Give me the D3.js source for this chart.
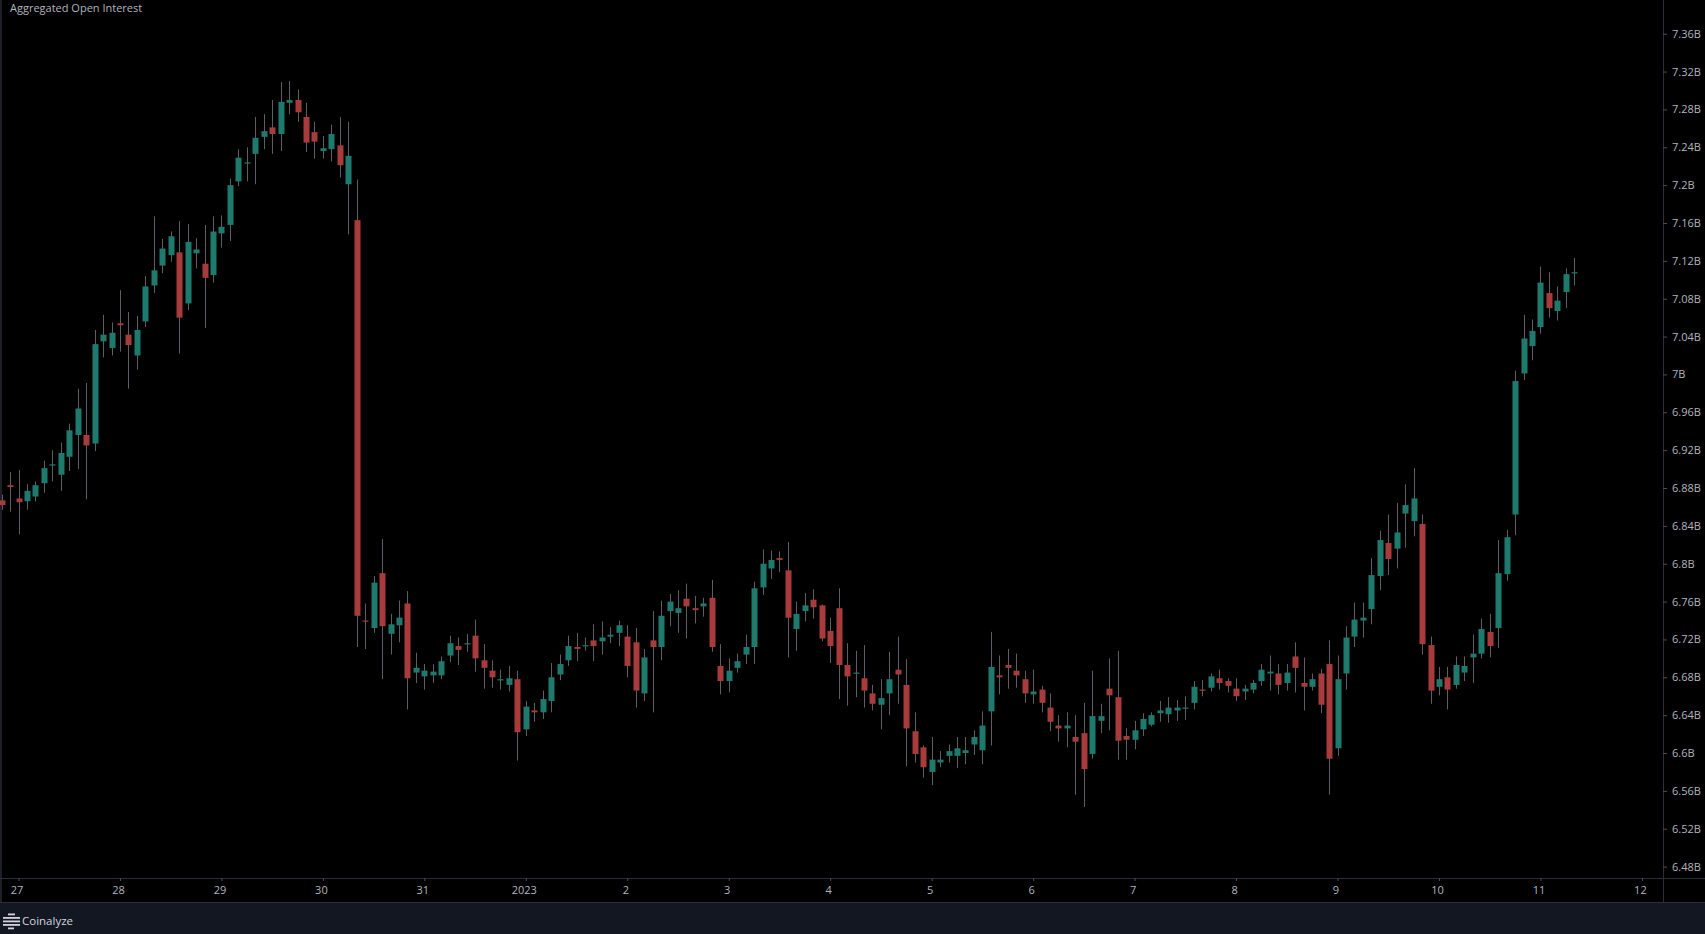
<!DOCTYPE html>
<html><head><meta charset="utf-8">
<script src="https://cdn.jsdelivr.net/npm/d3@7"></script>
<style>
html,body{margin:0;padding:0;background:#000;overflow:hidden;}
svg{display:block;}
</style></head><body>
<svg id="chart" width="1705" height="934"></svg>
<script>
// ---- data (2-hour candles, aggregated open interest, billions USD) ----
const firstCandle = "2022-12-26T20:00:00Z";
const candleHours = 2;
const openVals = [6.867,6.883,6.869,6.866,6.871,6.885,6.904,6.894,6.913,6.936,6.936,6.927,7.035,7.028,7.054,7.042,7.020,7.056,7.094,7.115,7.126,7.129,7.075,7.128,7.117,7.105,7.149,7.158,7.204,7.223,7.233,7.251,7.261,7.254,7.287,7.290,7.272,7.256,7.236,7.238,7.242,7.201,7.163,6.740,6.732,6.790,6.726,6.735,6.758,6.685,6.681,6.682,6.682,6.703,6.713,6.715,6.724,6.698,6.687,6.677,6.672,6.678,6.625,6.645,6.643,6.655,6.683,6.698,6.712,6.713,6.719,6.718,6.723,6.727,6.723,6.717,6.663,6.719,6.712,6.750,6.748,6.763,6.753,6.755,6.764,6.692,6.676,6.690,6.704,6.712,6.775,6.795,6.806,6.793,6.731,6.750,6.762,6.756,6.729,6.753,6.693,6.684,6.679,6.663,6.651,6.663,6.688,6.672,6.623,6.606,6.580,6.590,6.597,6.597,6.600,6.609,6.603,6.644,6.682,6.693,6.687,6.678,6.662,6.667,6.648,6.629,6.626,6.617,6.621,6.599,6.634,6.668,6.659,6.618,6.614,6.625,6.630,6.642,6.641,6.645,6.647,6.653,6.667,6.669,6.679,6.676,6.668,6.665,6.667,6.676,6.684,6.684,6.674,6.702,6.674,6.670,6.684,6.694,6.605,6.684,6.723,6.740,6.752,6.787,6.822,6.816,6.853,6.845,6.842,6.714,6.670,6.680,6.672,6.685,6.701,6.705,6.728,6.732,6.789,6.852,7.001,7.030,7.050,7.086,7.067,7.087,7.107];
const highVals = [6.873,6.897,6.899,6.884,6.887,6.909,6.920,6.928,6.948,6.985,6.991,7.047,7.063,7.055,7.089,7.066,7.062,7.104,7.167,7.143,7.151,7.162,7.159,7.144,7.158,7.167,7.168,7.207,7.238,7.240,7.272,7.275,7.290,7.309,7.310,7.301,7.287,7.267,7.252,7.264,7.272,7.267,7.206,6.758,6.787,6.826,6.747,6.761,6.771,6.706,6.694,6.694,6.702,6.724,6.722,6.726,6.741,6.715,6.698,6.688,6.692,6.687,6.655,6.653,6.666,6.695,6.704,6.724,6.727,6.722,6.736,6.739,6.733,6.740,6.735,6.732,6.710,6.750,6.761,6.768,6.772,6.779,6.766,6.764,6.783,6.715,6.700,6.705,6.725,6.781,6.815,6.814,6.813,6.823,6.760,6.769,6.773,6.757,6.743,6.774,6.716,6.708,6.714,6.672,6.678,6.707,6.723,6.699,6.643,6.608,6.617,6.602,6.609,6.617,6.617,6.624,6.644,6.728,6.703,6.710,6.705,6.687,6.688,6.671,6.663,6.640,6.643,6.640,6.653,6.687,6.652,6.700,6.708,6.626,6.634,6.642,6.643,6.655,6.659,6.656,6.660,6.676,6.677,6.684,6.688,6.679,6.679,6.672,6.677,6.694,6.703,6.694,6.694,6.717,6.701,6.684,6.689,6.719,6.703,6.734,6.759,6.759,6.806,6.835,6.852,6.864,6.884,6.901,6.852,6.723,6.691,6.691,6.702,6.702,6.725,6.742,6.747,6.825,6.836,7.004,7.063,7.058,7.114,7.108,7.093,7.112,7.123];
const lowVals = [6.857,6.855,6.831,6.857,6.866,6.875,6.887,6.877,6.898,6.900,6.868,6.919,7.018,7.020,7.024,6.985,7.005,7.050,7.086,7.107,7.119,7.022,7.068,7.112,7.049,7.097,7.134,7.141,7.199,7.204,7.201,7.238,7.233,7.236,7.275,7.267,7.235,7.228,7.228,7.225,7.208,7.148,6.712,6.710,6.727,6.678,6.704,6.717,6.646,6.674,6.667,6.674,6.678,6.696,6.693,6.707,6.686,6.668,6.669,6.667,6.665,6.592,6.618,6.633,6.636,6.643,6.677,6.692,6.697,6.708,6.697,6.704,6.716,6.713,6.680,6.648,6.655,6.643,6.698,6.734,6.727,6.721,6.737,6.744,6.707,6.662,6.664,6.685,6.694,6.694,6.767,6.784,6.791,6.701,6.708,6.739,6.742,6.718,6.695,6.657,6.650,6.659,6.648,6.645,6.625,6.640,6.652,6.586,6.590,6.574,6.566,6.585,6.590,6.584,6.588,6.598,6.588,6.608,6.662,6.668,6.669,6.653,6.652,6.643,6.623,6.612,6.606,6.556,6.543,6.594,6.621,6.624,6.593,6.593,6.604,6.618,6.628,6.633,6.632,6.634,6.635,6.646,6.660,6.665,6.667,6.664,6.655,6.656,6.663,6.671,6.666,6.662,6.666,6.664,6.645,6.666,6.642,6.556,6.597,6.667,6.712,6.722,6.736,6.772,6.788,6.795,6.817,6.829,6.704,6.652,6.661,6.646,6.668,6.676,6.674,6.700,6.701,6.711,6.782,6.830,6.994,7.015,7.043,7.060,7.057,7.070,7.094];
const closeVals = [6.862,6.881,6.865,6.877,6.883,6.901,6.905,6.917,6.941,6.964,6.925,7.032,7.042,7.044,7.052,7.031,7.047,7.093,7.110,7.133,7.146,7.060,7.140,7.132,7.102,7.151,7.156,7.200,7.229,7.224,7.250,7.257,7.254,7.288,7.290,7.277,7.245,7.246,7.239,7.254,7.221,7.231,6.745,6.739,6.780,6.734,6.736,6.743,6.679,6.690,6.687,6.686,6.697,6.716,6.709,6.716,6.700,6.690,6.680,6.678,6.679,6.622,6.649,6.643,6.657,6.680,6.694,6.713,6.710,6.714,6.713,6.722,6.725,6.735,6.692,6.666,6.701,6.712,6.745,6.760,6.753,6.755,6.751,6.758,6.712,6.676,6.687,6.697,6.712,6.774,6.800,6.804,6.804,6.743,6.747,6.756,6.754,6.721,6.713,6.693,6.681,6.685,6.666,6.652,6.658,6.678,6.683,6.626,6.599,6.585,6.593,6.593,6.602,6.605,6.603,6.617,6.629,6.691,6.680,6.690,6.682,6.663,6.665,6.653,6.633,6.626,6.629,6.612,6.583,6.639,6.639,6.661,6.613,6.614,6.624,6.636,6.640,6.645,6.648,6.648,6.648,6.670,6.666,6.681,6.674,6.671,6.660,6.668,6.674,6.688,6.686,6.672,6.685,6.690,6.670,6.678,6.651,6.594,6.678,6.722,6.741,6.743,6.788,6.825,6.805,6.833,6.862,6.869,6.715,6.666,6.678,6.667,6.693,6.692,6.705,6.731,6.713,6.790,6.828,6.993,7.038,7.046,7.097,7.070,7.078,7.106,7.108];
const yTickValues = [6.48,6.52,6.56,6.60,6.64,6.68,6.72,6.76,6.80,6.84,6.88,6.92,6.96,7.00,7.04,7.08,7.12,7.16,7.20,7.24,7.28,7.32,7.36,7.40];
const dayTicks = ["2022-12-27","2022-12-28","2022-12-29","2022-12-30","2022-12-31","2023-01-01","2023-01-02","2023-01-03","2023-01-04","2023-01-05","2023-01-06","2023-01-07","2023-01-08","2023-01-09","2023-01-10","2023-01-11","2023-01-12"];
const titleText = "Aggregated Open Interest";
const brandText = "Coinalyze";

// ---- layout ----
const W = 1705, H = 934;
const plotRight = 1663, plotBottom = 878, axisBottom = 902;
const colUp = "#1f7a6e", colDown = "#a83b3b", colWick = "#5c5f63";
const axisText = "#b2b5be", lineCol = "#2a2e39";

const candles = openVals.map((o, i) => ({
  t: d3.utcHour.offset(new Date(firstCandle), i * candleHours),
  o, h: highVals[i], l: lowVals[i], c: closeVals[i]
}));

const x = d3.scaleUtc()
  .domain([new Date("2022-12-27T00:00:00Z"), new Date("2023-01-12T00:00:00Z")])
  .range([18.5, 1641.9]);
const y = d3.scaleLinear().domain([6.48, 7.36]).range([866.6, 33.7]);

const svg = d3.select("#chart");
svg.append("rect").attr("width", W).attr("height", H).attr("fill", "#000");

const defs = svg.append("defs");
defs.append("clipPath").attr("id", "plotClip")
  .append("rect").attr("x", 0).attr("y", 0).attr("width", plotRight).attr("height", plotBottom);

// frame lines
svg.append("rect").attr("x", 0).attr("y", 0).attr("width", 2).attr("height", axisBottom).attr("fill", "#1c1f27");
svg.append("line").attr("x1", 0).attr("x2", W).attr("y1", plotBottom + 0.5).attr("y2", plotBottom + 0.5).attr("stroke", lineCol);
svg.append("line").attr("x1", plotRight + 0.5).attr("x2", plotRight + 0.5).attr("y1", 0).attr("y2", axisBottom).attr("stroke", lineCol);

// candles
const bodyW = 6;
const g = svg.append("g").attr("clip-path", "url(#plotClip)");
const cg = g.selectAll("g.candle").data(candles).join("g").attr("class", "candle");
cg.append("line")
  .attr("x1", d => Math.round(x(d.t)) + 0.5).attr("x2", d => Math.round(x(d.t)) + 0.5)
  .attr("y1", d => y(d.h)).attr("y2", d => y(d.l))
  .attr("stroke", colWick).attr("stroke-width", 1);
cg.append("rect")
  .attr("x", d => Math.round(x(d.t)) + 0.5 - bodyW / 2)
  .attr("width", bodyW)
  .attr("y", d => y(Math.max(d.o, d.c)))
  .attr("height", d => Math.max(1.2, Math.abs(y(d.o) - y(d.c))))
  .attr("fill", d => d.c >= d.o ? colUp : colDown);

// y axis
const yAxis = d3.axisRight(y).tickValues(yTickValues).tickSize(4).tickPadding(5)
  .tickFormat(d => (+d.toFixed(2)) + "B");
const ya = svg.append("g").attr("transform", `translate(${plotRight},0)`).call(yAxis);
ya.select(".domain").remove();
ya.selectAll("line").attr("stroke", "#4a4e58");
ya.selectAll("text").attr("fill", axisText).attr("font-family", "Open Sans, sans-serif").attr("font-size", 11);

// x axis
const xAxis = d3.axisBottom(x).tickValues(dayTicks.map(s => new Date(s + "T00:00:00Z")))
  .tickSize(3).tickPadding(5)
  .tickFormat(d => (d.getUTCMonth() === 0 && d.getUTCDate() === 1) ? "2023" : String(d.getUTCDate()));
const xa = svg.append("g").attr("transform", `translate(0,${plotBottom})`).call(xAxis);
xa.select(".domain").remove();
xa.selectAll("line").attr("stroke", "#4a4e58");
xa.selectAll("text").attr("fill", axisText).attr("font-family", "Open Sans, sans-serif").attr("font-size", 11)
  .attr("dx", -2);

// title
svg.append("text").attr("x", 10).attr("y", 11.5).text(titleText)
  .attr("fill", axisText).attr("font-family", "Open Sans, sans-serif").attr("font-size", 11);

// footer
svg.append("line").attr("x1", 0).attr("x2", W).attr("y1", axisBottom + 0.5).attr("y2", axisBottom + 0.5).attr("stroke", lineCol);
svg.append("rect").attr("x", 0).attr("y", axisBottom + 1).attr("width", W).attr("height", H - axisBottom - 1).attr("fill", "#131722");
const logo = svg.append("g").attr("fill", "#d1d4dc");
[[8, 913.5, 7], [3, 917, 17], [3, 920.5, 17], [3, 924, 17], [8, 927.5, 6]].forEach(([lx, ly, lw]) => {
  logo.append("rect").attr("x", lx).attr("y", ly).attr("width", lw).attr("height", 1.8);
});
svg.append("text").attr("x", 22).attr("y", 925).text(brandText)
  .attr("fill", "#d1d4dc").attr("font-family", "Open Sans, sans-serif").attr("font-size", 11.5);
</script>
</body></html>
